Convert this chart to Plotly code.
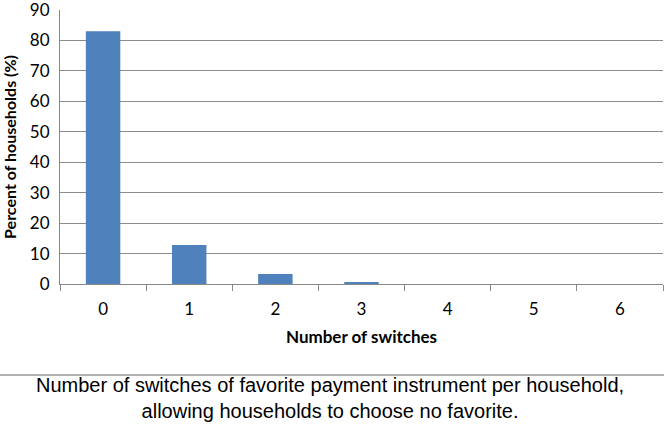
import plotly.graph_objects as go

categories = ["0", "1", "2", "3", "4", "5", "6"]
percent = [83.0, 12.8, 3.3, 0.5, 0.0, 0.0, 0.0]
y_ticks = [0, 10, 20, 30, 40, 50, 60, 70, 80, 90]

W, H = 664, 433
ml, mr, mt, mb = 60, 1, 10, 149
plot_h = H - mt - mb

def py(pixel_y):
    return (H - mb - pixel_y) / plot_h

fig = go.Figure()
fig.add_trace(go.Bar(
    x=categories, y=percent,
    marker=dict(color="#4F81BD", line=dict(width=0)),
    width=0.4,
))

tick_font = dict(family="Lato, Open Sans, sans-serif", size=17, color="#000000")
fig.update_layout(
    width=W, height=H,
    margin=dict(l=ml, r=mr, t=mt, b=mb, autoexpand=False),
    paper_bgcolor="white", plot_bgcolor="white",
    showlegend=False,
    xaxis=dict(
        type="category", automargin=False,
        showline=True, linecolor="#888888", linewidth=1,
        ticks="outside", ticklen=6, tickcolor="#888888",
        tickson="boundaries",
        tickfont=tick_font, ticklabelstandoff=10,
        showgrid=False,
        title=dict(text="<b>Number of switches</b>",
                   font=dict(family="Lato, Open Sans, sans-serif", size=17, color="#000"),
                   standoff=12),
    ),
    yaxis=dict(
        range=[0, 90], tickvals=y_ticks, automargin=False,
        showline=True, linecolor="#888888", linewidth=1,
        showgrid=True, gridcolor="#8c8c8c", gridwidth=1,
        zeroline=False, ticklabeloverflow="allow",
        ticks="", tickfont=tick_font, ticklabelstandoff=6,
        title=dict(text="<b>Percent of households (%)</b>",
                   font=dict(family="Lato, Open Sans, sans-serif", size=16, color="#000"),
                   standoff=10),
    ),
)

fig.add_shape(type="line", xref="paper", yref="paper",
              x0=-ml / (W - ml - mr), x1=(W - ml) / (W - ml - mr),
              y0=py(375), y1=py(375),
              line=dict(color="#999999", width=1.5))

fig.add_annotation(
    xref="paper", yref="paper",
    x=(330 - ml) / (W - ml - mr), y=py(398),
    text="Number of switches of favorite payment instrument per household,<br>allowing households to choose no favorite.",
    showarrow=False, align="center",
    font=dict(family="Liberation Sans, Arial, sans-serif", size=20, color="#000"),
    yanchor="middle", xanchor="center",
)

fig.write_html("out.html", config={"displayModeBar": False},
               post_script="document.body.style.margin='0';document.body.style.overflow='hidden';")
